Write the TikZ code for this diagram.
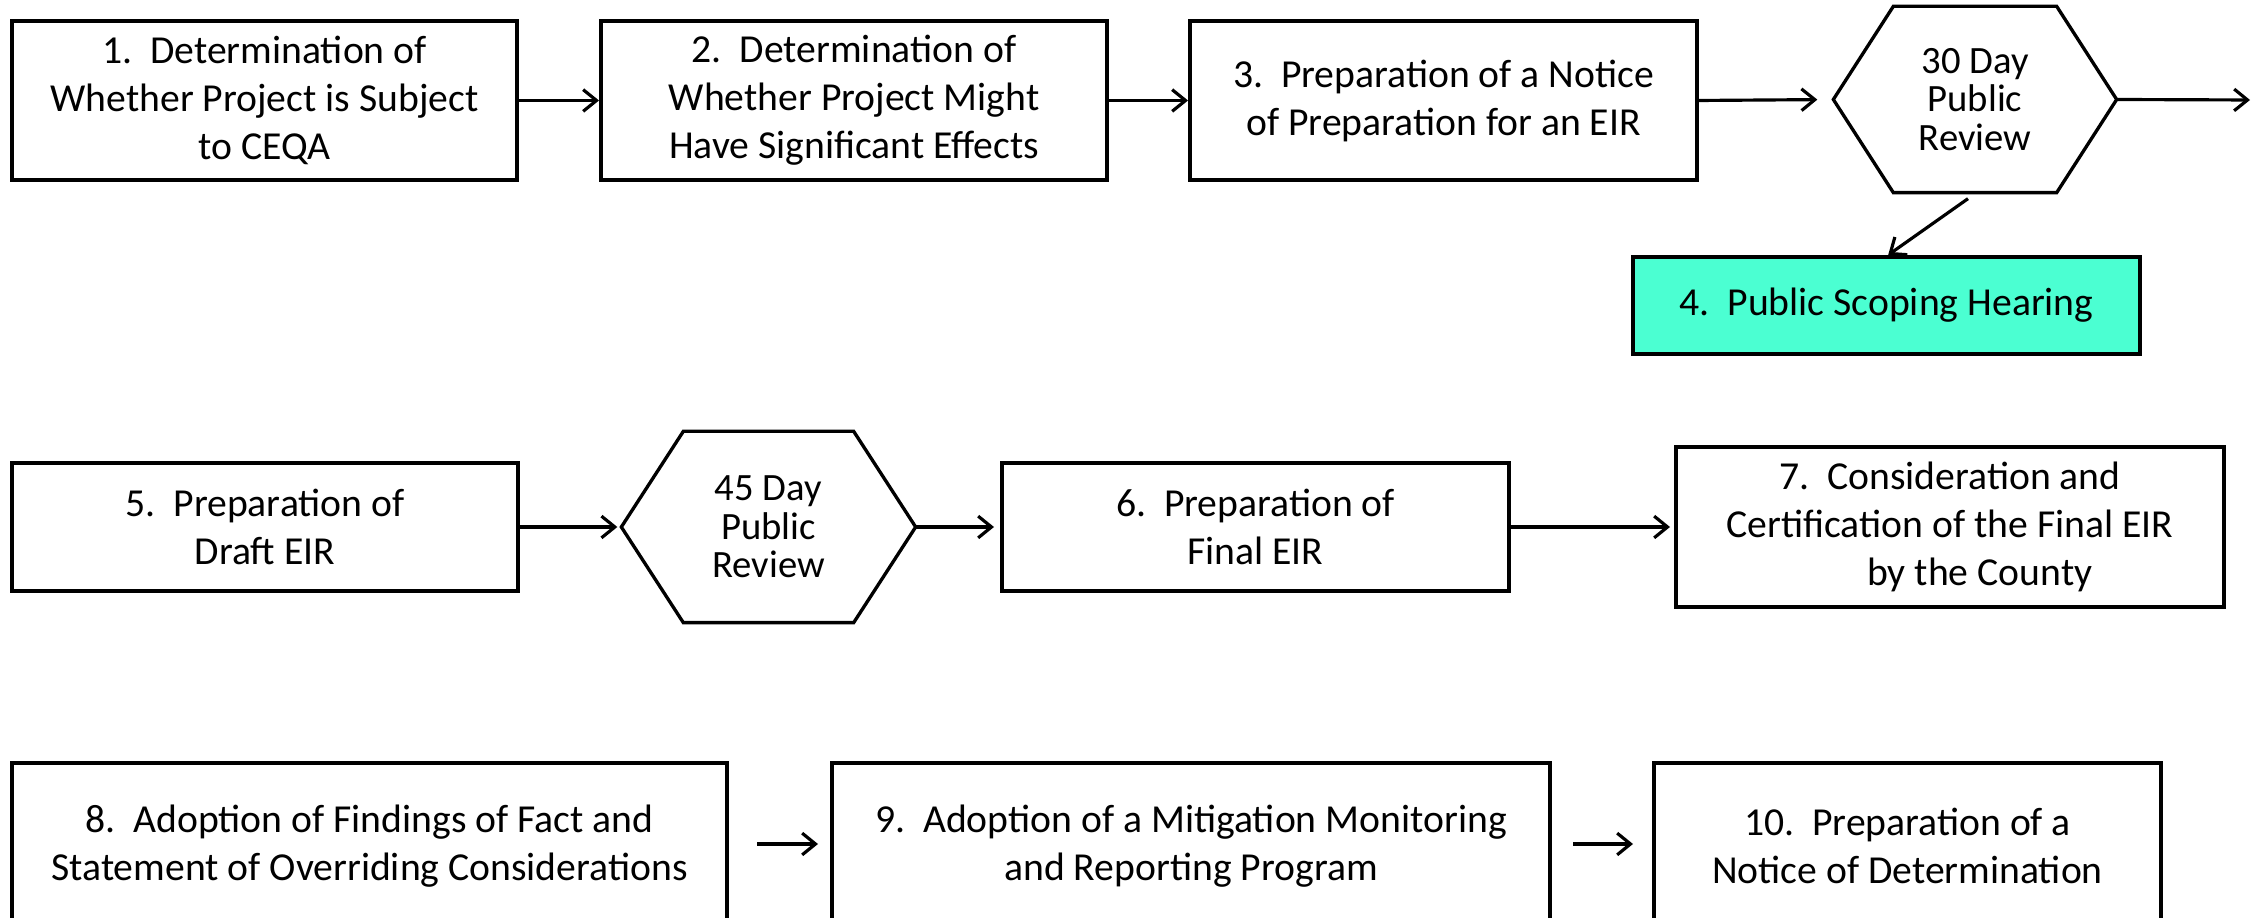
\documentclass[tikz,border=0pt]{standalone}
\usepackage{fontspec}
\setmainfont{Carlito}
\usetikzlibrary{arrows.meta,calc}
\definecolor{scopefill}{RGB}{75,255,210}
\begin{document}
\begin{tikzpicture}[x=0.3pt,y=-0.3pt,
  box/.style={draw,line width=1.2pt,align=center,inner sep=0pt,
    font=\fontsize{11.9}{14.4}\selectfont},
  hexnode/.style={align=center,inner sep=0pt,
    font=\fontsize{11.6}{11.6}\selectfont},
  hexline/.style={draw,line width=1pt,line join=miter},
  arr/.style={line width=0.95pt,-{Straight Barb[length=4pt,width=6.5pt]}}]
\clip (0,0) rectangle (2264,918);
% row 1
\node[box,minimum width=151.5pt,minimum height=47.7pt] (b1) at (264.5,100.5)
  {1.\ \ Determination of\\Whether Project is Subject\\to CEQA};
\node[box,minimum width=151.8pt,minimum height=47.7pt] (b2) at (854,100.5)
  {2.\ \ Determination of\\Whether Project Might\\Have Significant Effects};
\node[box,minimum width=152.1pt,minimum height=47.7pt] (b3) at (1443.5,100.5)
  {3.\ \ Preparation of a Notice\\of Preparation for an EIR};
\node[hexnode,minimum width=84.6pt,minimum height=55.5pt] (h30) at (1975,99.5)
  {30 Day\\Public\\Review};
\draw[hexline] ([xshift=18pt]h30.north west) -- ([xshift=-18pt]h30.north east)
  -- (h30.east) -- ([xshift=-18pt]h30.south east) -- ([xshift=18pt]h30.south west)
  -- (h30.west) -- cycle;
\node[box,fill=scopefill,minimum width=152.1pt,minimum height=29.1pt] (b4) at (1886.5,305.5)
  {4.\ \ Public Scoping Hearing};
\coordinate (out1) at (2250,100);
% row 2
\node[box,minimum width=151.8pt,minimum height=38.4pt] (b5) at (265,527)
  {5.\ \ Preparation of\\Draft EIR};
\node[hexnode,minimum width=87.9pt,minimum height=57pt] (h45) at (768.5,527)
  {45 Day\\Public\\Review};
\draw[hexline] ([xshift=18.6pt]h45.north west) -- ([xshift=-18.6pt]h45.north east)
  -- (h45.east) -- ([xshift=-18.6pt]h45.south east) -- ([xshift=18.6pt]h45.south west)
  -- (h45.west) -- cycle;
\node[box,minimum width=152.1pt,minimum height=38.4pt] (b6) at (1255.5,527)
  {6.\ \ Preparation of\\Final EIR};
\node[box,minimum width=164.4pt,minimum height=48pt] (b7) at (1950,527)
  {7.\ \ Consideration and\\Certification of the Final EIR\\\hspace*{1.5em}by the County};
% row 3
\node[box,minimum width=214.5pt,minimum height=49.8pt] (b8) at (369.5,846)
  {8.\ \ Adoption of Findings of Fact and\\Statement of Overriding Considerations};
\node[box,minimum width=215.4pt,minimum height=49.8pt] (b9) at (1191,846)
  {9.\ \ Adoption of a Mitigation Monitoring\\and Reporting Program};
\node[box,minimum width=152.1pt,minimum height=49.8pt] (b10) at (1907.5,846)
  {10.\ \ Preparation of a\\Notice of Determination};
% connectors
\draw[arr] (b1.east) -- (b2.west);
\draw[arr] (b2.east) -- (b3.west);
\draw[arr,shorten >=4.8pt] (b3.east) -- (h30.west);
\draw[arr] (h30.east) -- (out1);
\draw[arr] ($(h30.south)+(-7,6)$) -- ([xshift=0.5pt]b4.north);
\draw[arr,shorten >=1.2pt] (b5.east) -- (h45.west);
\draw[arr,shorten >=1.8pt] (h45.east) -- (b6.west);
\draw[arr,shorten >=1.2pt] (b6.east) -- (b7.west);
\draw[arr,shorten <=8.4pt,shorten >=3.6pt] ([yshift=0.6pt]b8.east) -- ([yshift=0.6pt]b9.west);
\draw[arr,shorten <=6.3pt,shorten >=5.7pt] ([yshift=0.6pt]b9.east) -- ([yshift=0.6pt]b10.west);
\end{tikzpicture}
\end{document}
